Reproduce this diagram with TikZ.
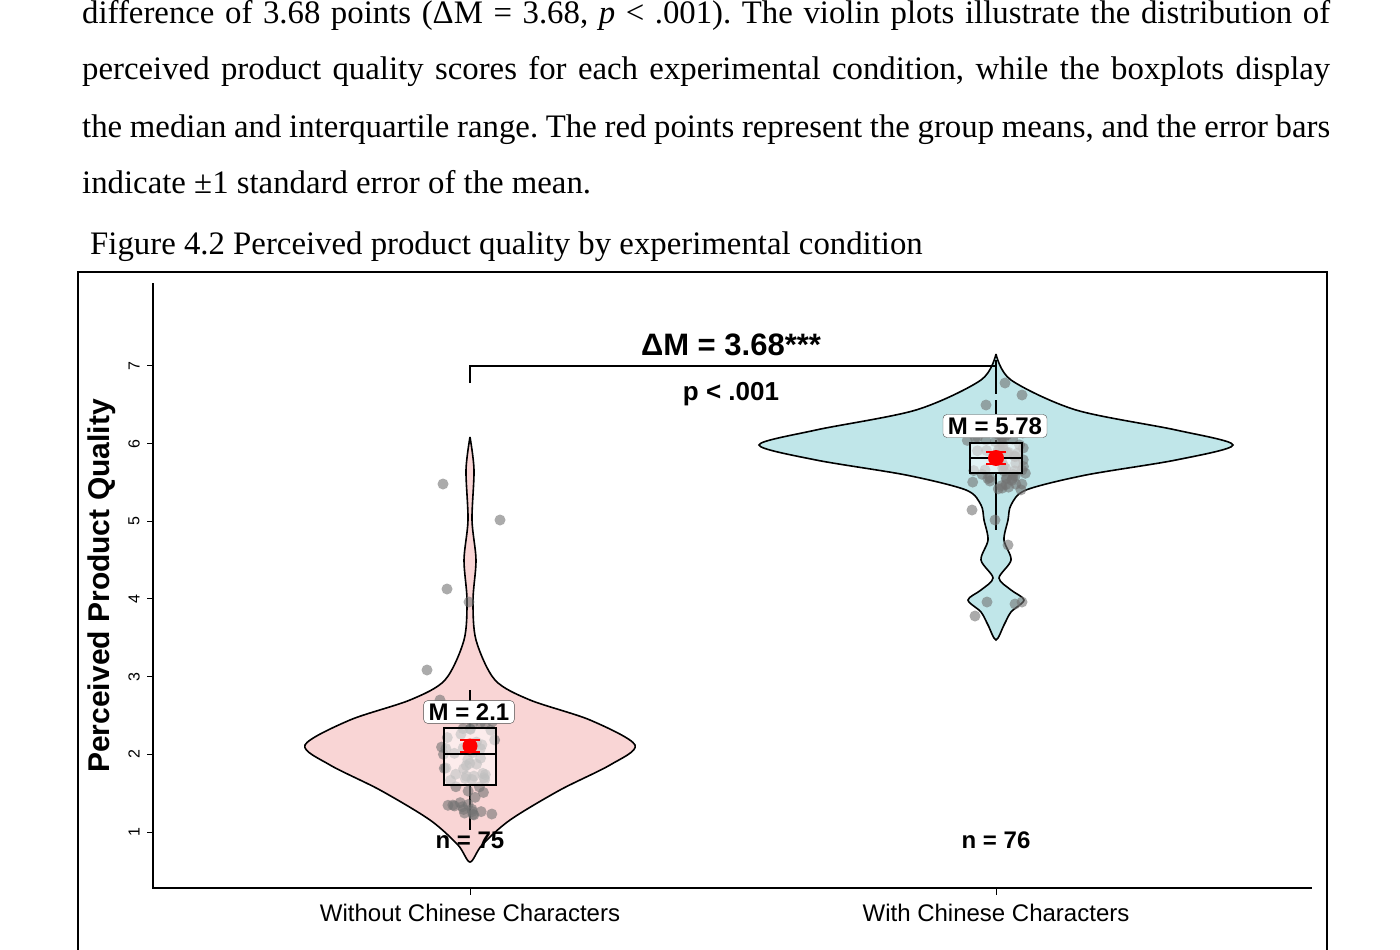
\documentclass[tikz,border=0pt]{standalone}
\usepackage{fontspec}
\setmainfont{Liberation Serif}
\newfontfamily\arial{Liberation Sans}
\definecolor{lpink}{RGB}{249,213,213}
\definecolor{lcyan}{RGB}{192,230,233}
\begin{document}
\frenchspacing
\begin{tikzpicture}[x=1pt,y=-1pt,
  body/.style={anchor=base west,inner sep=0,font=\fontsize{32.8}{36}\selectfont},
  lab/.style={font=\arial\fontsize{24}{28}\selectfont,inner sep=0},
  tick/.style={font=\arial\fontsize{16}{18}\selectfont,rotate=90,inner sep=0},
  vio/.style={draw=black,line width=1.6pt},
  mlab/.style={draw=black!70,fill=white,rounded corners=4pt,font=\arial\bfseries\fontsize{24}{28}\selectfont,inner xsep=5pt,inner ysep=3pt},
  box/.style={draw=black,line width=1.4pt,fill=white,fill opacity=0.55},
  pt/.style={fill=black!55,fill opacity=0.6}]
\useasboundingbox (0,0) rectangle (1400,950);
\fill[white] (0,0) rectangle (1400,950);
% body text
\node[body] (l1) at (82,24) {\makebox[1248pt][s]{difference of 3.68 points (ΔM = 3.68, \textit{p} < .001). The violin plots illustrate the distribution of}};
\node[body] (l2) at (82,80) {\makebox[1248pt][s]{perceived product quality scores for each experimental condition, while the boxplots display}};
\node[body] (l3) at (82,137) {\makebox[1248pt][s]{the median and interquartile range. The red points represent the group means, and the error bars}};
\node[body] (l4) at (82,193) {indicate ±1 standard error of the mean.};
\node[body] (cap) at (90,254) {Figure 4.2 Perceived product quality by experimental condition};
% frame
\draw[line width=1.3pt] (78,960) -- (78,272) -- (1327,272) -- (1327,960);
% axes
\draw[line width=1.3pt] (153,283) -- (153,888) -- (1312,888);
\foreach \v in {1,...,7}{
  \pgfmathsetmacro\yy{832-(\v-1)*77.67}
  \draw[line width=1pt] (147,\yy) -- (153,\yy);
  \node[tick] at (134,\yy) {\v};
}
\draw[line width=1pt] (470,888) -- (470,895);
\draw[line width=1pt] (996,888) -- (996,895);
\node[lab] (xl1) at (470,913) {Without Chinese Characters};
\node[lab] (xl2) at (996,913) {With Chinese Characters};
\node[font=\arial\bfseries\fontsize{30}{34}\selectfont,rotate=90,inner sep=0] (yl) at (102,586) {Perceived Product Quality};
% left violin
\def\lv{(470,437)(474,470)(472,520)(476,560)(473,600)(476,640)(495,680)(530,700)(590,720)(635,745)(610,765)(560,790)(510,820)(482,845)(470,862)(458,845)(430,820)(380,790)(330,765)(305,745)(350,720)(410,700)(445,680)(464,640)(467,600)(464,560)(468,520)(466,470)(470,437)}
\fill[lpink] plot[smooth] coordinates {\lv};
\draw[vio] plot[smooth] coordinates {\lv};
% right violin
\def\rv{(996,354)(1011,380)(1076,410)(1176,430)(1233,445)(1176,460)(1086,475)(1026,490)(1011,505)(1008,520)(1004,540)(1011,560)(999,578)(1011,590)(1024,600)(1011,612)(1004,625)(996,640)(988,625)(981,612)(968,600)(981,590)(993,578)(981,560)(988,540)(984,520)(981,505)(966,490)(906,475)(816,460)(759,445)(816,430)(916,410)(981,380)(996,354)}
\fill[lcyan] plot[smooth] coordinates {\rv};
\draw[vio] plot[smooth] coordinates {\rv};
% whiskers
\draw[line width=1.4pt] (470,690) -- (470,728) (470,785) -- (470,830);
\draw[line width=1.4pt,dash pattern=on 14pt off 6pt] (996,360) -- (996,443);
\draw[line width=1.4pt] (996,473) -- (996,530);
% jitter points
\pgfmathsetseed{7}
\foreach \i in {1,...,60}{
  \pgfmathsetmacro\px{470+rand*30}
  \pgfmathsetmacro\py{765+rand*50}
  \fill[pt] (\px,\py) circle (5.5);
}
\foreach \p in {(443,484),(500,520),(447,589),(469,602),(427,670),(440,700)}{\fill[pt] \p circle (5.5);}
\pgfmathsetseed{11}
\foreach \i in {1,...,60}{
  \pgfmathsetmacro\px{996+rand*30}
  \pgfmathsetmacro\py{462+rand*32}
  \fill[pt] (\px,\py) circle (5.5);
}
\foreach \p in {(1005,383),(1022,395),(986,405),(1015,420),(972,510),(995,520),(987,602),(1015,604),(975,616),(1022,602),(1008,545)}{\fill[pt] \p circle (5.5);}
% boxes
\draw[box] (444,728) rectangle (496,785);
\draw[line width=2.5pt] (444,754) -- (496,754);
\draw[box] (970,443) rectangle (1022,473);
\draw[line width=2.5pt] (970,458) -- (1022,458);
% means
\draw[red,line width=2.5pt] (460,740) -- (480,740) (470,740) -- (470,752) (460,752) -- (480,752);
\fill[red] (470,746) circle (7.5);
\draw[red,line width=2.5pt] (986,452) -- (1006,452) (996,452) -- (996,464) (986,464) -- (1006,464);
\fill[red] (996,458) circle (8);
% labels
\node[mlab] (m1) at (469,712) {M = 2.1};
\node[mlab] (m2) at (995,426) {M = 5.78};
\node[font=\arial\bfseries\fontsize{24}{28}\selectfont,inner sep=0] (n1) at (470,840) {n = 75};
\node[font=\arial\bfseries\fontsize{24}{28}\selectfont,inner sep=0] (n2) at (996,840) {n = 76};
% bracket
\coordinate (bl) at (470,383);
\coordinate (br) at (996,383);
\draw[line width=1.2pt] (bl) -- (470,366) -- (996,366) -- (br);
\node[font=\arial\bfseries\fontsize{31}{34}\selectfont,inner sep=0] (dm) at (731,345) {ΔM = 3.68***};
\node[font=\arial\bfseries\fontsize{26}{28}\selectfont,inner sep=0] (pv) at (731,394) {p < .001};
\end{tikzpicture}
\end{document}
